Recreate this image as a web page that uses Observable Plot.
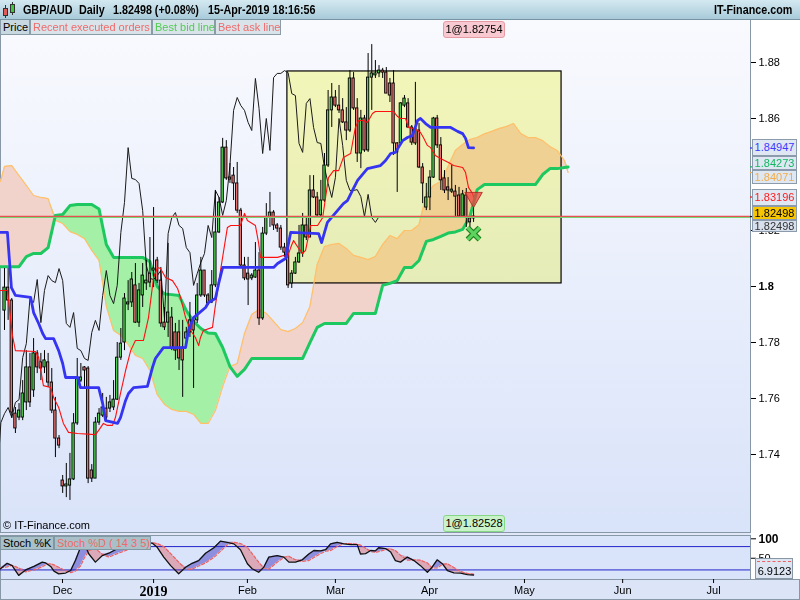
<!DOCTYPE html>
<html>
<head>
<meta charset="utf-8">
<script src="https://cdn.jsdelivr.net/npm/d3@7"></script>
<script src="https://cdn.jsdelivr.net/npm/@observablehq/plot@0.6"></script>
<style>
  html,body{margin:0;padding:0;}
  body{width:800px;height:600px;overflow:hidden;position:relative;background:#fff;font-family:"Liberation Sans",Arial,sans-serif;font-size:11px;color:#000;}
  .a{position:absolute;box-sizing:border-box;white-space:nowrap;}
  .lg{top:20px;height:15px;line-height:14px;padding:0 2px;background:#d9e4ea;border:1px solid #8a9ca8;border-top:none;font-size:11px;}
  .rl{left:752px;width:45px;text-align:center;background:#dfe7f3;border:1px solid #8b9bab;font-size:11px;}
  .hd{top:3px;font-weight:bold;font-size:12.5px;transform:scaleX(0.86);transform-origin:left center;}
</style>
</head>
<body>
<!-- backgrounds -->
<div class="a" style="left:0;top:0;width:800px;height:20px;background:linear-gradient(#d4e9f1,#a8cad9);border-bottom:1px solid #7894a2"></div>
<div class="a" style="left:0;top:20px;width:751px;height:513px;background:linear-gradient(#f9fafe,#d9e3f9);border-right:1px solid #8797a5;border-bottom:1px solid #8797a5;border-left:1px solid #8797a5"></div>
<div class="a" style="left:0;top:533px;width:751px;height:2px;background:#dfe7f9"></div>
<div class="a" style="left:0;top:535px;width:751px;height:44px;background:#d9e3fa;border:1px solid #8797a5;border-bottom:none"></div>
<div class="a" style="left:0;top:579px;width:800px;height:21px;background:#dce5f7;border:1px solid #8797a5"></div>

<div class="a" id="mainplot" style="left:0;top:20px"></div>
<div class="a" id="stochplot" style="left:0;top:533px"></div>

<!-- header -->
<div class="a" style="left:5px;top:5px;width:1px;height:13px;background:#333"></div>
<div class="a" style="left:3px;top:8px;width:5px;height:8px;background:#e05a5a;border:1px solid #333"></div>
<div class="a" style="left:12px;top:2px;width:1px;height:13px;background:#333"></div>
<div class="a" style="left:10px;top:4px;width:5px;height:9px;background:#3fc63f;border:1px solid #333"></div>
<div class="a hd" style="left:23px">GBP/AUD</div>
<div class="a hd" style="left:79px">Daily</div>
<div class="a hd" style="left:113px">1.82498 (+0.08%)</div>
<div class="a hd" style="left:208px">15-Apr-2019 18:16:56</div>
<div class="a hd" style="left:714px">IT-Finance.com</div>

<!-- legend row -->
<div class="a lg" style="left:0;width:30px;background:#c7d8e0;">Price</div>
<div class="a lg" style="left:30px;width:122px;color:#ef6b6b;">Recent executed orders</div>
<div class="a lg" style="left:152px;width:63px;color:#52cc52;">Best bid line</div>
<div class="a lg" style="left:215px;width:66px;color:#ef6b6b;">Best ask line</div>

<!-- order labels -->
<div class="a" style="left:443px;top:21px;width:62px;height:17px;line-height:15px;text-align:center;background:#f8c9d0;border:1px solid #e59aa4;border-radius:3px;">1@1.82754</div>
<div class="a" style="left:443px;top:515px;width:62px;height:17px;line-height:15px;text-align:center;background:#c9f2c9;border:1px solid #85d685;border-radius:3px;">1@1.82528</div>
<div class="a" style="left:3px;top:519px;">© IT-Finance.com</div>

<!-- right price labels -->
<div class="a rl" style="top:139px;height:17px;line-height:15px;color:#3a3aff;">1.84947</div>
<div class="a rl" style="top:156px;height:14px;line-height:12px;color:#10b860;">1.84273</div>
<div class="a rl" style="top:170px;height:14px;line-height:12px;color:#f2ad48;">1.84071</div>
<div class="a rl" style="top:189px;height:17px;line-height:15px;color:#ff1a1a;">1.83196</div>
<div class="a rl" style="top:206px;height:14px;line-height:12px;background:#f7c600;">1.82498</div>
<div class="a rl" style="top:220px;height:12px;line-height:11px;background:#d8e0ee;color:#333;">1.82498</div>

<!-- stoch legend & label -->
<div class="a" style="left:0;top:536px;width:54px;height:14px;line-height:13px;padding-left:2px;background:#a9c0c9;border:1px solid #7f98a3;">Stoch %K</div>
<div class="a" style="left:54px;top:536px;width:97px;height:14px;line-height:13px;padding-left:2px;background:#a9c0c9;border:1px solid #7f98a3;color:#f06a6a;">Stoch %D ( 14 3 5)</div>
<div class="a" style="left:755px;top:558px;width:38px;height:21px;background:#dde5f3;border:1px solid #8797a5;"></div>
<div class="a" style="left:757px;top:561px;width:34px;height:0;border-top:1.5px dashed #ee6060;"></div>
<div class="a" style="left:756px;top:565px;width:37px;text-align:center;">6.9123</div>

<script>
// ---------- data ----------
const candleOpen = [
1.7914,1.7996,1.7950,1.7546,1.7532,1.7532,1.7586,1.7711,1.7629,1.7761,
1.7729,1.7711,1.7729,1.7657,1.7557,1.7457,1.7307,1.7286,1.7289,1.7311,
1.7511,1.7664,1.7711,1.7707,1.7343,1.7314,1.7514,1.7539,1.7564,1.7564,
1.7568,1.7596,1.7746,1.7800,1.7936,1.7943,1.8004,1.7871,1.7968,1.8011,
1.8046,1.8057,1.8093,1.8021,1.7871,1.7871,1.7889,1.7836,1.7836,1.7782,
1.7814,1.7836,1.7879,1.7879,1.7968,1.8057,1.7968,1.7943,1.8004,1.8193,
1.8300,1.8496,1.8389,1.8396,1.8368,1.8271,1.8075,1.8046,1.8029,1.8032,
1.8057,1.7886,1.8189,1.8246,1.8264,1.8218,1.8207,1.8139,1.8111,1.8011,
1.8046,1.8086,1.8118,1.8218,1.8175,1.8343,1.8318,1.8254,1.8307,1.8432,
1.8629,1.8675,1.8646,1.8629,1.8586,1.8557,1.8743,1.8636,1.8475,1.8600,
1.8486,1.8746,1.8754,1.8761,1.8771,1.8764,1.8725,1.8725,1.8511,1.8511,
1.8646,1.8654,1.8568,1.8564,1.8557,1.8425,1.8282,1.8318,1.8389,1.8600,
1.8504,1.8386,1.8354,1.8339,1.8339,1.8325,1.8250,1.8325,1.8243,1.8243];
const candleHigh = [
1.8064,1.8064,1.7957,1.7568,1.7582,1.7664,1.7771,1.7761,1.7814,1.7771,
1.7761,1.7771,1.7761,1.7707,1.7604,1.7468,1.7325,1.7368,1.7404,1.7546,
1.7743,1.7725,1.7714,1.7714,1.7364,1.7532,1.7564,1.7618,1.7604,1.7611,
1.7664,1.7800,1.7850,1.7975,1.8021,1.8050,1.8082,1.8011,1.8082,1.8093,
1.8175,1.8282,1.8104,1.8068,1.7925,1.8154,1.7925,1.7868,1.7879,1.7879,
1.7854,1.7943,1.7889,1.8011,1.8104,1.8057,1.7975,1.8057,1.8343,1.8318,
1.8529,1.8521,1.8439,1.8425,1.8443,1.8279,1.8104,1.8104,1.8046,1.8157,
1.8121,1.8211,1.8296,1.8336,1.8271,1.8225,1.8218,1.8154,1.8136,1.8057,
1.8104,1.8218,1.8261,1.8246,1.8396,1.8396,1.8336,1.8379,1.8475,1.8700,
1.8725,1.8700,1.8718,1.8671,1.8639,1.8771,1.8764,1.8671,1.8629,1.8611,
1.8832,1.8864,1.8807,1.8789,1.8779,1.8782,1.8743,1.8771,1.8514,1.8657,
1.8682,1.8671,1.8575,1.8729,1.8582,1.8439,1.8368,1.8414,1.8604,1.8611,
1.8532,1.8414,1.8389,1.8432,1.8361,1.8354,1.8343,1.8350,1.8246,1.8282];
const candleLow = [
1.7843,1.7879,1.7529,1.7475,1.7521,1.7521,1.7557,1.7568,1.7604,1.7689,
1.7664,1.7689,1.7639,1.7546,1.7389,1.7421,1.7261,1.7246,1.7236,1.7307,
1.7504,1.7657,1.7639,1.7296,1.7300,1.7314,1.7504,1.7532,1.7521,1.7550,
1.7557,1.7593,1.7736,1.7771,1.7914,1.7925,1.7868,1.7854,1.7925,1.7986,
1.7996,1.7996,1.8011,1.7854,1.7843,1.7818,1.7771,1.7736,1.7700,1.7604,
1.7796,1.7818,1.7636,1.7868,1.7961,1.7961,1.7932,1.7939,1.7996,1.8189,
1.8296,1.8379,1.8368,1.8307,1.8261,1.8068,1.8021,1.7932,1.8021,1.8029,
1.7861,1.7879,1.8182,1.8211,1.8200,1.8193,1.8129,1.8104,1.7993,1.7993,
1.8043,1.8082,1.8104,1.8164,1.8175,1.8314,1.8246,1.8246,1.8300,1.8425,
1.8568,1.8639,1.8618,1.8582,1.8521,1.8550,1.8629,1.8443,1.8421,1.8479,
1.8479,1.8629,1.8743,1.8746,1.8743,1.8689,1.8657,1.8468,1.8336,1.8511,
1.8639,1.8564,1.8504,1.8504,1.8421,1.8296,1.8271,1.8271,1.8386,1.8493,
1.8343,1.8332,1.8307,1.8332,1.8246,1.8243,1.8246,1.8211,1.8211,1.8229];
const candleClose = [
1.7996,1.7950,1.7550,1.7493,1.7557,1.7618,1.7711,1.7586,1.7761,1.7711,
1.7707,1.7736,1.7657,1.7557,1.7457,1.7432,1.7286,1.7293,1.7311,1.7511,
1.7675,1.7675,1.7700,1.7314,1.7314,1.7514,1.7546,1.7568,1.7532,1.7586,
1.7596,1.7746,1.7796,1.7957,1.7943,1.8025,1.7871,1.7986,1.8039,1.8021,
1.8014,1.8064,1.8021,1.7868,1.7854,1.7907,1.7779,1.7771,1.7743,1.7736,
1.7836,1.7879,1.7843,1.7968,1.8057,1.7968,1.7939,1.8004,1.8193,1.8300,
1.8496,1.8386,1.8382,1.8368,1.8271,1.8075,1.8029,1.8025,1.8039,1.8057,
1.7886,1.8189,1.8246,1.8264,1.8218,1.8207,1.8139,1.8121,1.8004,1.8046,
1.8086,1.8118,1.8218,1.8175,1.8343,1.8318,1.8254,1.8307,1.8432,1.8629,
1.8675,1.8646,1.8629,1.8586,1.8557,1.8743,1.8636,1.8475,1.8600,1.8486,
1.8746,1.8761,1.8761,1.8771,1.8764,1.8689,1.8682,1.8511,1.8479,1.8654,
1.8671,1.8568,1.8514,1.8511,1.8425,1.8368,1.8318,1.8389,1.8600,1.8504,
1.8379,1.8343,1.8343,1.8346,1.8321,1.8250,1.8329,1.8246,1.8229,1.8250];

// Ichimoku cloud (bar positions, leading span A = thin orange, span B = thick green)
const cloudK = [
-1.1,0,2,4,6,8,10,12,14,16,
18,20,22,24,26,28,30,32,34,36,
38,40,42,44,46,48,50,52,54,56,
58,60,62,64,66,68,70,72,74,76,
78,80,82,84,86,88,90,92,94,96,
98,100,102,104,106,108,110,112,114,116,
118,120,122,124,126,128,130,132,134,136,
138,140,142,144,146,148,150,152,154,155];
const spanA = [
1.8375,1.8429,1.8432,1.8396,1.8361,1.8325,1.8318,1.8314,1.8236,1.8225,
1.8196,1.8186,1.8171,1.8129,1.8093,1.7929,1.7843,1.7825,1.7793,1.7754,
1.7743,1.7700,1.7614,1.7579,1.7561,1.7554,1.7554,1.7543,1.7511,1.7511,
1.7557,1.7643,1.7714,1.7725,1.7832,1.7900,1.7918,1.7904,1.7875,1.7846,
1.7839,1.7850,1.7871,1.7929,1.8079,1.8143,1.8150,1.8154,1.8136,1.8111,
1.8104,1.8096,1.8107,1.8150,1.8182,1.8171,1.8200,1.8200,1.8221,1.8329,
1.8361,1.8375,1.8429,1.8486,1.8507,1.8525,1.8532,1.8545,1.8554,1.8564,
1.8571,1.8582,1.8546,1.8532,1.8532,1.8521,1.8500,1.8486,1.8450,1.8407];
const spanB = [
1.8071,1.8071,1.8071,1.8071,1.8107,1.8118,1.8118,1.8139,1.8254,1.8257,
1.8289,1.8293,1.8293,1.8293,1.8277,1.8150,1.8104,1.8104,1.8104,1.8104,
1.8104,1.8089,1.8000,1.7973,1.7971,1.7968,1.7914,1.7875,1.7850,1.7834,
1.7832,1.7782,1.7714,1.7679,1.7704,1.7743,1.7743,1.7743,1.7743,1.7743,
1.7743,1.7743,1.7743,1.7800,1.7854,1.7868,1.7868,1.7868,1.7868,1.7904,
1.7904,1.7904,1.7904,1.8004,1.8011,1.8021,1.8068,1.8068,1.8093,1.8161,
1.8168,1.8179,1.8191,1.8195,1.8204,1.8250,1.8346,1.8364,1.8364,1.8364,
1.8364,1.8364,1.8364,1.8364,1.8364,1.8400,1.8421,1.8421,1.8425,1.8427];

// Tenkan-sen (red)
const tenkanK = [-1.1,0.8,2.2,3.0,8.5,9.4,10.7,12.7,13.5,14.9,16.2,17.6,20.1,25.0,25.9,27.2,28.3,29.7,30.5,31.9,33.3,34.7,36.0,38.2,39.6,41.0,42.1,42.9,44.3,46.2,47.6,48.4,49.8,51.2,52.5,53.4,53.9,54.7,57.2,57.8,59.4,61.3,62.2,64.9,66.0,66.8,69.0,69.9,70.4,75.1,76.7,77.8,78.7,79.5,80.9,82.0,82.8,84.2,86.1,87.5,88.3,89.1,90.5,91.9,93.2,95.2,96.5,97.4,98.7,99.8,101.2,102.0,107.0,108.1,108.9,110.3,111.1,112.5,113.6,114.4,115.2,116.3,117.2,118.5,119.9,122.1,123.5,126.0,126.8,127.6,128.7,129.0];
const tenkanV = [1.7986,1.7986,1.7825,1.7771,1.7768,1.7746,1.7646,1.7639,1.7604,1.7568,1.7511,1.7479,1.7475,1.7471,1.7486,1.7511,1.7504,1.7504,1.7532,1.7618,1.7700,1.7771,1.7807,1.7807,1.7889,1.8032,1.8068,1.8064,1.8032,1.8021,1.7993,1.7961,1.7889,1.7843,1.7818,1.7789,1.7818,1.7843,1.7854,1.7914,1.8057,1.8211,1.8218,1.8218,1.8261,1.8236,1.8218,1.8154,1.8104,1.8104,1.8111,1.8104,1.8139,1.8164,1.8136,1.8118,1.8129,1.8218,1.8218,1.8246,1.8318,1.8389,1.8414,1.8414,1.8461,1.8475,1.8568,1.8593,1.8593,1.8586,1.8618,1.8625,1.8625,1.8607,1.8600,1.8600,1.8568,1.8564,1.8557,1.8550,1.8532,1.8504,1.8496,1.8468,1.8457,1.8443,1.8432,1.8425,1.8407,1.8354,1.8332,1.8320];

// Kijun-sen (blue)
const kijunK = [-1.1,0.8,1.9,3.0,7.2,8.0,9.4,10.5,11.3,13.5,14.9,16.0,16.8,20.1,20.9,25.9,27.0,27.8,31.1,31.9,33.3,34.1,35.5,39.3,40.7,41.5,43.7,49.8,50.6,52.0,53.4,55.3,56.1,58.0,58.9,60.0,74.0,75.1,77.3,78.7,86.4,87.2,88.8,93.2,94.3,95.7,97.1,99.8,103.4,104.8,106.2,107.5,109.5,110.8,112.2,113.6,114.4,115.8,117.2,122.7,124.6,126.0,126.8,127.6,129.0];
const kijunV = [1.8193,1.8193,1.7996,1.7968,1.7961,1.7907,1.7868,1.7832,1.7814,1.7814,1.7771,1.7725,1.7675,1.7675,1.7639,1.7639,1.7582,1.7521,1.7511,1.7532,1.7593,1.7618,1.7639,1.7643,1.7711,1.7743,1.7782,1.7782,1.7843,1.7889,1.7904,1.7925,1.7943,1.7957,1.8011,1.8068,1.8068,1.8082,1.8100,1.8193,1.8189,1.8157,1.8229,1.8296,1.8307,1.8343,1.8379,1.8421,1.8432,1.8450,1.8475,1.8479,1.8521,1.8532,1.8539,1.8593,1.8600,1.8582,1.8568,1.8568,1.8554,1.8546,1.8529,1.8496,1.8495];

const chikouShift = 26;

// Stochastic (14 3 5)
const stochX = [-1.1,0.74,2.1,3.9,5.8,8.1,10.4,11.3,12.7,13.6,14.9,16.8,18.2,19.5,20.9,21.8,23.2,25.0,26.9,28.7,30.5,32.8,36.0,40.6,42.0,43.8,45.7,47.9,49.8,51.6,53.4,55.3,57.6,59.4,61.2,63.1,64.9,66.8,68.1,69.9,71.3,72.7,75.0,76.8,78.2,80.0,81.9,83.7,85.1,86.9,88.3,89.7,91.5,93.3,95.2,97.0,97.9,99.3,100.7,102.0,102.9,104.8,106.2,107.5,108.9,110.8,112.6,114.4,116.3,117.6,119.0,120.4,121.8,123.6,125.4,127.3,129.0];
const stochK = [23,37,31,6,20,29,40,38,29,17,10,12,18.5,44,78,91,61,40,57,63,72,82,90,89,78,53,31,10,27,37,44,63,77,94,91,87,72,36,23,14,27,53,57,53,40,40,46,61,70,69,72,87,91,87,85,85,61,62,70,69,77,75,66,44,40,53,44,31,14,27,46,36,18.5,12.6,12,8,6.9123];
const stochD = [25,28,32,25,15,20,28,33,36,33,27,18,13,17,30,48,70,75,60,53,60,68,80,90,88,80,62,40,22,22,30,38,52,68,84,91,88,78,62,40,25,22,40,52,55,46,42,44,52,62,68,70,80,88,88,86,84,76,67,65,67,72,74,70,58,45,46,45,38,25,25,34,36,26,16,11,9];
const stochLevels = [80, 20];

// axes / annotations
const monthTicks = [15.95, 41.0, 66.8, 91.0, 116.9, 143.0, 170.0, 195.0];
const monthLabels = ["Dec", "2019", "Feb", "Mar", "Apr", "May", "Jun", "Jul"];
const priceTicks = [1.74, 1.76, 1.78, 1.80, 1.82, 1.86, 1.88];
const boxK = [77.8, 153.2];
const boxP = [1.8011, 1.8768];
const askLine = 1.82505;
const bidLine = 1.82466;
const markerValues = [1.84947, 1.84273, 1.84071, 1.83196, 1.82498];
const markerColors = ["#3a3aff", "#10b860", "#f2ad48", "#ff1a1a", "#000000"];
const sellK = [129], sellP = [1.8318];
const buyK = [129], buyP = [1.8189];

// ---------- build ----------
const xDomain = [-1.1, 205.16];
const fontFamily = '"Liberation Sans", Arial, sans-serif';
const candles = candleOpen.map((o, i) => ({k: i, o, h: candleHigh[i], l: candleLow[i], c: candleClose[i]}));
const chikou = candles.filter(d => d.k >= 24).map(d => ({k: d.k - chikouShift, c: d.c}));
const cloud = cloudK.map((k, i) => ({k, a: spanA[i], b: spanB[i]}));
const tenkan = tenkanK.map((k, i) => ({k, v: tenkanV[i]}));
const kijun = kijunK.map((k, i) => ({k, v: kijunV[i]}));
const stoch = stochX.map((k, i) => ({k, K: stochK[i], D: stochD[i]}));
const box = [{k1: boxK[0], k2: boxK[1], p1: boxP[0], p2: boxP[1]}];
const marks = markerValues.map((v, i) => ({v, color: markerColors[i]}));
const sells = sellK.map((k, i) => ({k, p: sellP[i]}));
const buys = buyK.map((k, i) => ({k, p: buyP[i]}));
const labelOf = new Map(monthTicks.map((t, i) => [t, monthLabels[i]]));

const mainPlot = Plot.plot({
  width: 800, height: 513,
  marginLeft: 0, marginRight: 50, marginTop: 0, marginBottom: 0,
  style: {background: "transparent", fontFamily, fontSize: "11px", color: "#000", overflow: "visible"},
  x: {domain: xDomain, axis: null},
  y: {domain: [1.71179, 1.895], axis: "right", label: null, ticks: priceTicks,
      tickFormat: d => String(+d.toFixed(2)), tickSize: 5, tickPadding: 3},
  marks: [
    Plot.areaY(cloud, {x: "k", y1: "b", y2: d => Math.max(d.a, d.b), fill: "#f2d3cb"}),
    Plot.areaY(cloud, {x: "k", y1: "a", y2: d => Math.max(d.a, d.b), fill: "#a3f0a6"}),
    Plot.rect(box, {x1: "k1", x2: "k2", y1: "p1", y2: "p2", fill: "#fcfdba", stroke: "#000", strokeWidth: 1.2, mixBlendMode: "multiply", ariaLabel: "box"}),
    Plot.line(cloud, {x: "k", y: "a", stroke: "#ffc06a", strokeWidth: 1.2}),
    Plot.line(cloud, {x: "k", y: "b", stroke: "#1ec860", strokeWidth: 3}),
    Plot.line(chikou, {x: "k", y: "c", stroke: "#1a1a1a", strokeWidth: 1, clip: true}),
    Plot.ruleX(candles, {x: "k", y1: "l", y2: "h", stroke: "#000", strokeWidth: 1}),
    Plot.rect(candles, {x1: d => d.k - 0.32, x2: d => d.k + 0.32, y1: "o",
      y2: d => Math.abs(d.c - d.o) < 0.0002 ? d.o + 0.0003 : d.c,
      fill: d => d.c >= d.o ? "#4fd24f" : "#e87272", stroke: "#000", strokeWidth: 0.9}),
    Plot.line(tenkan, {x: "k", y: "v", stroke: "#ff1010", strokeWidth: 1.1}),
    Plot.line(kijun, {x: "k", y: "v", stroke: "#3434f2", strokeWidth: 2.8}),
    Plot.ruleY([bidLine], {stroke: "#6fd46f", strokeWidth: 1}),
    Plot.ruleY([askLine], {stroke: "#e65252", strokeWidth: 1.1}),
    Plot.ruleY(marks, {y: "v", x1: xDomain[1], x2: xDomain[1] + 1.4, stroke: "color", strokeWidth: 1.3}),
    Plot.dot(sells, {x: "k", y: "p", symbol: "triangle", rotate: 180, r: 6.5, fill: "#ee4040", fillOpacity: 0.75, stroke: "#b02020", strokeWidth: 0.8}),
    Plot.dot(buys, {x: "k", y: "p", symbol: "times", r: 5.5, stroke: "#1f7f1f", strokeWidth: 5.5}),
    Plot.dot(buys, {x: "k", y: "p", symbol: "times", r: 5.5, stroke: "#5fd35f", strokeWidth: 3.2})
  ]
});

const stochPlot = Plot.plot({
  width: 800, height: 67,
  marginLeft: 0, marginRight: 50, marginTop: 2, marginBottom: 21,
  style: {background: "transparent", fontFamily, fontSize: "11px", color: "#000", overflow: "visible"},
  x: {domain: xDomain, label: null, ticks: monthTicks, tickFormat: d => labelOf.get(d), tickSize: 4, tickPadding: 3},
  y: {domain: [-4.6, 108.5], axis: "right", label: null, ticks: [100, 50], tickSize: 5, tickPadding: 3},
  marks: [
    Plot.areaY(stoch, {x: "k", y1: "D", y2: d => Math.max(d.K, d.D), fill: "#8e8ede"}),
    Plot.areaY(stoch, {x: "k", y1: "K", y2: d => Math.max(d.K, d.D), fill: "#dba9b8"}),
    Plot.ruleY(stochLevels, {stroke: "#2424c8", strokeWidth: 1}),
    Plot.line(stoch, {x: "k", y: "D", stroke: "#ee6060", strokeWidth: 1.2, strokeDasharray: "3,2"}),
    Plot.line(stoch, {x: "k", y: "K", stroke: "#111", strokeWidth: 1.3})
  ]
});

document.getElementById("mainplot").append(mainPlot);
document.getElementById("stochplot").append(stochPlot);

// style tweaks on generated text
const bx = mainPlot.querySelector('g[aria-label="box"]');
if (bx) bx.style.mixBlendMode = "multiply";
mainPlot.querySelectorAll("text").forEach(t => { if (t.textContent === "1.8") t.style.fontWeight = "bold"; });
stochPlot.querySelectorAll("text").forEach(t => {
  if (t.textContent === "100") { t.style.fontWeight = "bold"; t.style.fontSize = "12px"; }
  if (t.textContent === "2019") { t.style.fontWeight = "bold"; t.style.fontFamily = '"Liberation Serif", "Times New Roman", serif'; t.style.fontSize = "14px"; }
});
</script>
</body>
</html>
